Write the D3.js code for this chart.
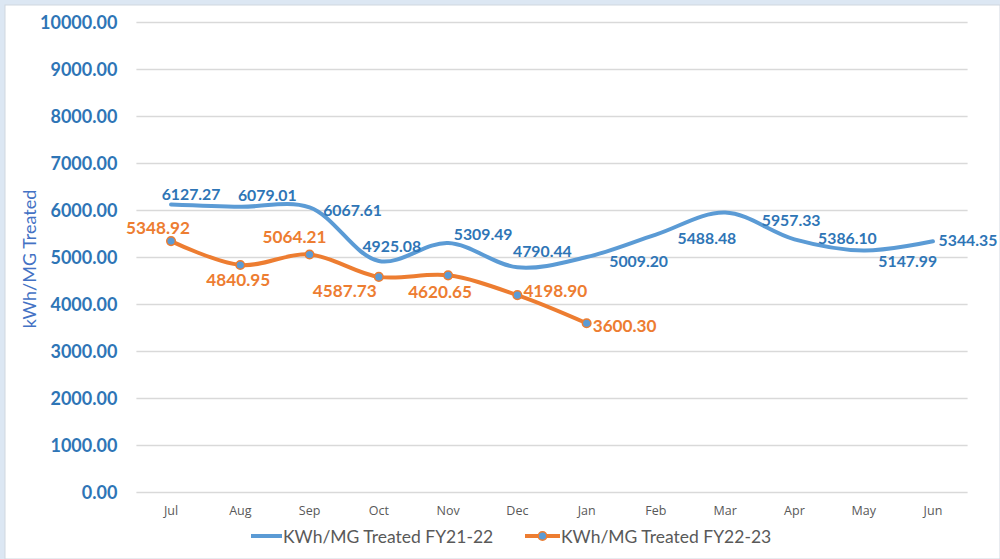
<!DOCTYPE html>
<html>
<head>
<meta charset="utf-8">
<script src="https://cdn.jsdelivr.net/npm/d3@7"></script>
<style>
  html, body { margin: 0; padding: 0; background: #dce7f3; }
  svg { display: block; }
</style>
</head>
<body>
<div id="chart"></div>
<script>
// datos del grafico
const months = ["Jul", "Aug", "Sep", "Oct", "Nov", "Dec", "Jan", "Feb", "Mar", "Apr", "May", "Jun"];
const fy2122 = [6127.27, 6079.01, 6067.61, 4925.08, 5309.49, 4790.44, 5009.20, 5488.48, 5957.33, 5386.10, 5147.99, 5344.35];
const fy2223 = [5348.92, 4840.95, 5064.21, 4587.73, 4620.65, 4198.90, 3600.30];
const yTicks = [0, 1000, 2000, 3000, 4000, 5000, 6000, 7000, 8000, 9000, 10000];
const seriesNames = ["KWh/MG Treated FY21-22", "KWh/MG Treated FY22-23"];

// desplazamiento de las etiquetas respecto al punto (estilo)
const blueLabelOffset = [[20, -11], [27, -12], [43, 2], [13, -16], [35, -9], [25, -17], [52, 3], [51, 3], [66, 7], [53, -2], [44, 10], [35, -2]];
const orangeLabelOffset = [[-13, -14], [-2, 15], [-15, -18], [-34, 14], [-8, 16], [38, -5], [38, 2]];

const W = 1000, H = 559;
const margin = { top: 22.5, left: 136.4 };
const width = 831.2;
const plotH = 470;

const svg = d3.select('#chart').append('svg')
  .attr('width', W).attr('height', H);

svg.append('rect')
  .attr('x', 5).attr('y', 5).attr('width', W - 5).attr('height', H - 5)
  .attr('fill', '#fff').attr('stroke', '#d0d7e0');

const g = svg.append('g').attr('transform', `translate(${margin.left},${margin.top})`);

const x = d3.scaleBand().domain(months).range([0, width]);
const y = d3.scaleLinear().domain([0, 10000]).range([plotH, 0]);
const cx = m => x(m) + x.bandwidth() / 2;

// lineas de cuadricula
g.selectAll('.grid').data(yTicks).enter().append('line')
  .attr('x1', 0).attr('x2', width)
  .attr('y1', d => y(d)).attr('y2', d => y(d))
  .attr('stroke', '#d9d9d9').attr('stroke-width', 1.3);

// eje Y
const yAxis = g.append('g')
  .call(d3.axisLeft(y).tickValues(yTicks).tickSize(0).tickPadding(19).tickFormat(d3.format('.2f')));
yAxis.select('.domain').remove();
yAxis.selectAll('text')
  .style('font-family', 'Lato, sans-serif')
  .style('font-size', '18px')
  .style('font-weight', 'bold')
  .attr('fill', '#2e75b6');

// eje X
const xAxis = g.append('g')
  .attr('transform', `translate(0,${y(0)})`)
  .call(d3.axisBottom(x).tickSize(0).tickPadding(14));
xAxis.select('.domain').remove();
xAxis.selectAll('text')
  .style('font-family', '"Liberation Sans Narrow", "Open Sans", sans-serif')
  .style('font-size', '12.5px')
  .attr('fill', '#595959');

// titulo del eje Y
svg.append('text')
  .attr('transform', `translate(36,259) rotate(-90)`)
  .attr('text-anchor', 'middle')
  .style('font-family', 'Lato, sans-serif')
  .style('font-size', '18px')
  .attr('fill', '#4472c4')
  .text('kWh/MG Treated');

const line = d3.line()
  .x((d, i) => cx(months[i]))
  .y(d => y(d))
  .curve(d3.curveCatmullRom.alpha(0.5));

g.append('path').datum(fy2122)
  .attr('d', line)
  .attr('fill', 'none').attr('stroke', '#5b9bd5').attr('stroke-width', 4)
  .attr('stroke-linecap', 'round');

g.append('path').datum(fy2223)
  .attr('d', line)
  .attr('fill', 'none').attr('stroke', '#ed7d31').attr('stroke-width', 4)
  .attr('stroke-linecap', 'round');

g.selectAll('.pt').data(fy2223).enter().append('circle')
  .attr('cx', (d, i) => cx(months[i]))
  .attr('cy', d => y(d))
  .attr('r', 4.3)
  .attr('fill', '#5b9bd5').attr('stroke', '#ed7d31').attr('stroke-width', 1.5);

// etiquetas de datos
g.selectAll('.lblA').data(fy2122).enter().append('text')
  .attr('x', (d, i) => cx(months[i]) + blueLabelOffset[i][0])
  .attr('y', (d, i) => y(d) + blueLabelOffset[i][1])
  .attr('text-anchor', 'middle').attr('dominant-baseline', 'central')
  .style('font-family', 'Lato, sans-serif')
  .style('font-size', '15.8px').style('font-weight', 'bold')
  .attr('fill', '#2e75b6')
  .text(d => d3.format('.2f')(d));

g.selectAll('.lblB').data(fy2223).enter().append('text')
  .attr('x', (d, i) => cx(months[i]) + orangeLabelOffset[i][0])
  .attr('y', (d, i) => y(d) + orangeLabelOffset[i][1])
  .attr('text-anchor', 'middle').attr('dominant-baseline', 'central')
  .style('font-family', 'Lato, sans-serif')
  .style('font-size', '17.2px').style('font-weight', 'bold')
  .attr('fill', '#ed7d31')
  .text(d => d3.format('.2f')(d));

// leyenda
const legend = svg.append('g').attr('transform', 'translate(251,536)');
legend.append('line').attr('x1', 0).attr('x2', 31).attr('y1', 0).attr('y2', 0)
  .attr('stroke', '#5b9bd5').attr('stroke-width', 4);
legend.append('text').attr('x', 32).attr('y', 0).attr('dominant-baseline', 'central')
  .style('font-family', 'Lato, sans-serif')
  .style('font-size', '17.5px').attr('fill', '#595959')
  .text(seriesNames[0]);
legend.append('line').attr('x1', 274).attr('x2', 309).attr('y1', 0).attr('y2', 0)
  .attr('stroke', '#ed7d31').attr('stroke-width', 4);
legend.append('circle').attr('cx', 291.5).attr('cy', 0).attr('r', 4.3)
  .attr('fill', '#5b9bd5').attr('stroke', '#ed7d31').attr('stroke-width', 1.5);
legend.append('text').attr('x', 310).attr('y', 0).attr('dominant-baseline', 'central')
  .style('font-family', 'Lato, sans-serif')
  .style('font-size', '17.5px').attr('fill', '#595959')
  .text(seriesNames[1]);
</script>
</body>
</html>
